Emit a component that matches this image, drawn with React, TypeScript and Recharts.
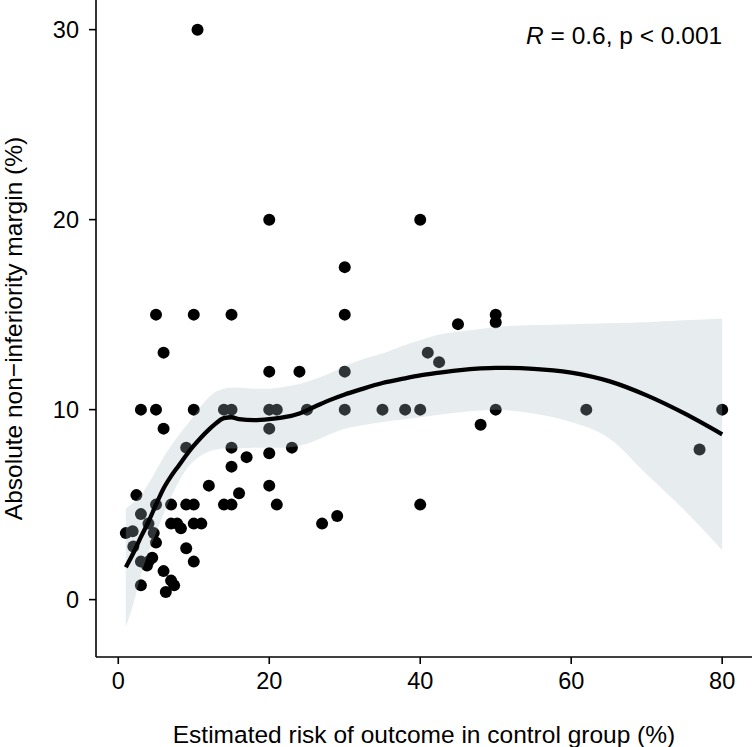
import React from 'react';
import { ComposedChart, Scatter, Area, Line, XAxis, YAxis, ReferenceDot } from 'recharts';

const FONT = '"Liberation Sans", Arial, Helvetica, sans-serif';

// Scatter points: estimated control-group risk (%) vs absolute NI margin (%)
const studyRisk = [
  1, 1.9, 2, 2.4, 3, 3, 3, 3, 3.8, 4,
  4.5, 4, 4.7, 5, 5, 5, 5, 6, 6, 6,
  6.3, 7, 7.4, 7, 7, 7.8, 8.3, 9, 9, 9,
  10, 10, 10, 10, 10, 10.5, 11, 12, 14, 15,
  14, 15, 15, 15, 15, 16, 17, 20, 20, 20,
  21, 20, 20, 20, 21, 23, 24, 25, 27, 29,
  30, 30, 30, 30, 35, 38, 40, 40, 40, 41,
  42.5, 45, 48, 50, 50, 50, 62, 77, 80,
];
const studyMargin = [
  3.5, 3.6, 2.8, 5.5, 4.5, 10, 0.75, 2, 1.8, 2,
  2.2, 4, 3.5, 3, 5, 10, 15, 13, 9, 1.5,
  0.4, 1, 0.75, 5, 4, 4, 3.75, 8, 5, 2.7,
  5, 4, 2, 10, 15, 30, 4, 6, 5, 5,
  10, 10, 15, 8, 7, 5.6, 7.5, 20, 12, 10,
  10, 9, 7.7, 6, 5, 8, 12, 10, 4, 4.4,
  17.5, 15, 12, 10, 10, 10, 10, 20, 5, 13,
  12.5, 14.5, 9.2, 15, 14.6, 10, 10, 7.9, 10,
];

// Loess smooth and its confidence band
const smoothX = [1, 2, 3, 4, 5, 6, 7, 8, 9, 10, 11, 12, 13, 14, 15, 16, 18, 20, 22, 24, 26, 28, 30, 32, 35, 38, 40, 42, 45, 48, 50, 55, 60, 65, 70, 75, 80];
const smoothFit = [1.7, 2.45, 3.3, 4.1, 5.0, 5.85, 6.5, 7.05, 7.6, 8.1, 8.55, 8.95, 9.3, 9.55, 9.6, 9.5, 9.45, 9.5, 9.6, 9.8, 10.15, 10.5, 10.8, 11.05, 11.4, 11.65, 11.8, 11.92, 12.07, 12.17, 12.2, 12.15, 11.95, 11.5, 10.75, 9.8, 8.7];
const smoothLower = [-1.44, -0.2, 1.3, 2.5, 3.5, 4.5, 5.4, 6.2, 6.85, 7.3, 7.6, 7.8, 7.9, 7.95, 7.95, 7.97, 8.0, 8.0, 8.0, 8.1, 8.35, 8.7, 9.0, 9.15, 9.35, 9.5, 9.6, 9.7, 9.85, 9.95, 10.0, 9.8, 9.35, 8.5, 6.6, 4.7, 2.6];
const smoothUpper = [4.8, 5.1, 5.5, 6.1, 6.8, 7.5, 8.1, 8.65, 9.15, 9.65, 10.2, 10.65, 10.95, 11.1, 11.15, 11.15, 11.1, 11.1, 11.2, 11.35, 11.6, 11.9, 12.3, 12.6, 12.95, 13.4, 13.65, 13.9, 14.1, 14.25, 14.35, 14.45, 14.5, 14.55, 14.6, 14.7, 14.8];

const xTicks = [0, 20, 40, 60, 80];
const yTicks = [0, 10, 20, 30];
const xDomain = [-2.95, 83.95];
const yDomain = [-3.02, 31.56];

const xTitle = 'Estimated risk of outcome in control group (%)';
const yTitle = 'Absolute non\u2212inferiority margin (%)';
const corrText = ' = 0.6, p < 0.001';
const corrAnchor = { x: 80, y: 29.23 };

const points = studyRisk.map((x, i) => ({ x, y: studyMargin[i] }));
const smooth = smoothX.map((x, i) => ({ x, fit: smoothFit[i], band: [smoothLower[i], smoothUpper[i]] }));

const Dot = (props: any) => {
  const { cx, cy } = props;
  if (cx == null || cy == null) return null;
  return <circle cx={cx} cy={cy} r={6} fill="#000" />;
};

const XTitle = (props: any) => {
  const vb = props.viewBox || {};
  return (
    <text x={vb.x + vb.width / 2} y={vb.y + vb.height - 4} textAnchor="middle" fontSize={24.5} fontFamily={FONT} fill="#000">
      {xTitle}
    </text>
  );
};

const YTitle = (props: any) => {
  const vb = props.viewBox || {};
  const cx = vb.x + 22;
  const cy = vb.y + vb.height / 2;
  return (
    <text transform={`translate(${cx},${cy}) rotate(-90)`} textAnchor="middle" fontSize={24.5} fontFamily={FONT} fill="#000">
      {yTitle}
    </text>
  );
};

const CorrLabel = (props: any) => {
  const vb = props.viewBox || {};
  return (
    <text x={vb.x} y={vb.y} textAnchor="end" fontSize={24.5} fontFamily={FONT} fill="#000">
      <tspan fontStyle="italic">R</tspan>
      {corrText}
    </text>
  );
};

export default function App() {
  return (
    <div style={{ position: 'absolute', left: 0, top: 0, width: 752, height: 747, background: '#fff' }}>
      <ComposedChart width={752} height={747} margin={{ top: 0, right: 0, bottom: 0, left: 0 }}>
        <XAxis
          type="number"
          dataKey="x"
          domain={xDomain}
          ticks={xTicks}
          allowDataOverflow
          height={90}
          tickSize={7}
          tickMargin={8}
          axisLine={{ stroke: '#000', strokeWidth: 1.6 }}
          tickLine={{ stroke: '#000', strokeWidth: 1.6 }}
          tick={{ fill: '#000', fontSize: 23.5, fontFamily: FONT }}
          label={{ value: xTitle, content: XTitle }}
        />
        <YAxis
          type="number"
          dataKey="y"
          domain={yDomain}
          ticks={yTicks}
          allowDataOverflow
          width={96}
          tickSize={7}
          tickMargin={10}
          axisLine={{ stroke: '#000', strokeWidth: 1.6 }}
          tickLine={{ stroke: '#000', strokeWidth: 1.6 }}
          tick={{ fill: '#000', fontSize: 23.5, fontFamily: FONT }}
          label={{ value: yTitle, content: YTitle }}
        />
        <Scatter data={points} shape={Dot} isAnimationActive={false} zIndex={50} />
        <Area
          data={smooth}
          dataKey="band"
          type="monotone"
          stroke="none"
          fill="#a8bcc4"
          fillOpacity={0.28}
          isAnimationActive={false}
          dot={false}
          activeDot={false}
          zIndex={100}
        />
        <Line
          data={smooth}
          dataKey="fit"
          type="monotone"
          stroke="#000"
          strokeWidth={4.3}
          dot={false}
          activeDot={false}
          isAnimationActive={false}
          zIndex={400}
        />
        <ReferenceDot x={corrAnchor.x} y={corrAnchor.y} r={0} fill="none" stroke="none" label={{ value: 'R', content: CorrLabel }} />
      </ComposedChart>
    </div>
  );
}
